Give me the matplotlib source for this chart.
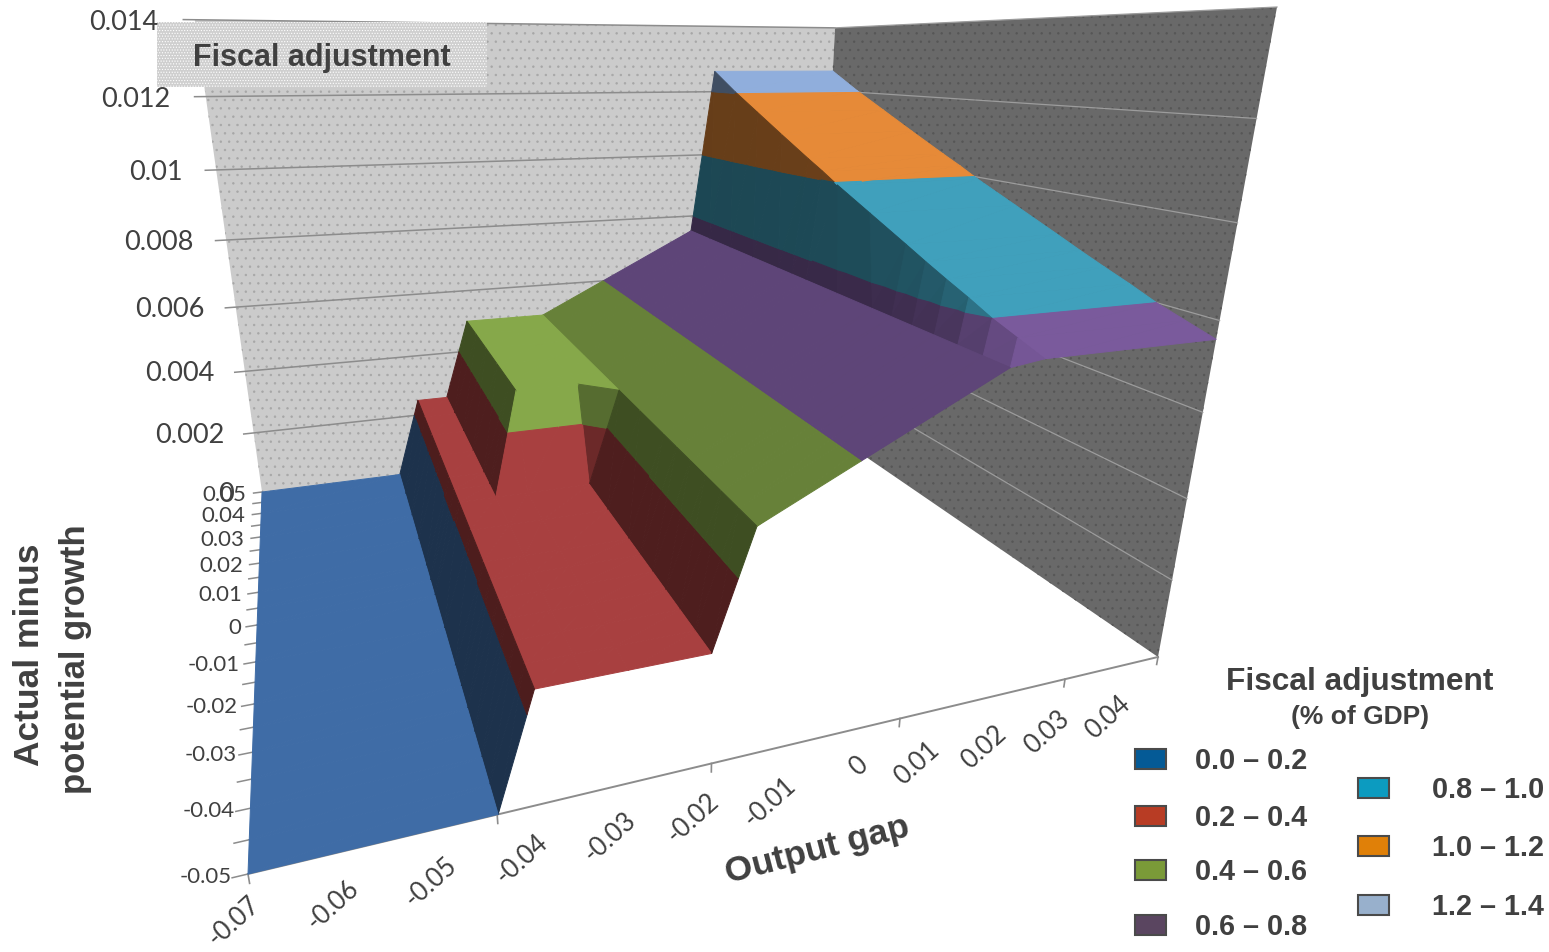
import matplotlib
matplotlib.use("Agg")
import matplotlib.pyplot as plt
import numpy as np
from matplotlib.colors import to_rgb
from matplotlib.patches import Rectangle
from mpl_toolkits.mplot3d.art3d import Poly3DCollection

FIG_W, FIG_H = 1549, 953

# surface grid
output_gap = [-0.07, -0.0461, -0.0417, -0.0365, -0.0319, -0.0227, -0.0179, 0.0114, 0.0158, 0.04]
growth_gap = [-0.05, -0.045, -0.04, -0.035, -0.03, -0.025, -0.02, -0.01, 0.0, 0.005, 0.01, 0.02, 0.03, 0.04, 0.05]
adjustment = [
    [0, 0, 0.0025, 0.0025, 0.0025, 0.0025, 0.005, 0.0075, 0.0076, 0.0076],
    [0, 0, 0.0025, 0.0025, 0.0025, 0.0025, 0.005, 0.0075, 0.0078, 0.0078],
    [0, 0, 0.0025, 0.0025, 0.0025, 0.0025, 0.005, 0.0075, 0.0080, 0.0080],
    [0, 0, 0.0025, 0.0025, 0.0025, 0.0025, 0.005, 0.0075, 0.00825, 0.00825],
    [0, 0, 0.0025, 0.0025, 0.0025, 0.0025, 0.005, 0.0075, 0.00848, 0.00848],
    [0, 0, 0.0025, 0.0025, 0.0025, 0.0025, 0.005, 0.0075, 0.00872, 0.00872],
    [0, 0, 0.0025, 0.0025, 0.0025, 0.0025, 0.005, 0.0075, 0.00897, 0.00897],
    [0, 0, 0.0025, 0.0025, 0.0025, 0.0025, 0.005, 0.0075, 0.00946, 0.00946],
    [0, 0, 0.0025, 0.0025, 0.0025, 0.0025, 0.005, 0.0075, 0.00995, 0.00995],
    [0, 0, 0.0025, 0.0025, 0.005, 0.005, 0.005, 0.0075, 0.01022, 0.01022],
    [0, 0, 0.0025, 0.0025, 0.005, 0.005, 0.005, 0.0075, 0.01047, 0.01047],
    [0, 0, 0.0025, 0.0025, 0.005, 0.005, 0.005, 0.0075, 0.01099, 0.01099],
    [0, 0, 0.0025, 0.0025, 0.005, 0.005, 0.005, 0.0075, 0.01152, 0.01152],
    [0, 0, 0.0025, 0.0025, 0.005, 0.005, 0.005, 0.0075, 0.01205, 0.01205],
    [0, 0, 0.0025, 0.0025, 0.005, 0.005, 0.005, 0.0075, 0.01263, 0.01263],
]
# cells split along the other diagonal (column, row)
flipped_cells = [(5, 8)]

band_edges = [0.0, 0.002, 0.004, 0.006, 0.008, 0.010, 0.012, 0.014]
band_labels = ["0.0 – 0.2", "0.2 – 0.4", "0.4 – 0.6", "0.6 – 0.8", "0.8 – 1.0", "1.0 – 1.2", "1.2 – 1.4"]
surface_colors = ["#3F6CA6", "#A84040", "#86A84A", "#7A5A9C", "#40A0BC", "#E68A38", "#90AEDC"]
legend_colors = ["#045A96", "#B83C24", "#7A9A38", "#5A4560", "#0C9BC0", "#E08008", "#98B0CC"]

x_major_ticks = [-0.07, -0.0462, -0.0225, 0.0014, 0.0252, 0.04]
x_tick_labels = ["-0.07", "-0.06", "-0.05", "-0.04", "-0.03", "-0.02", "-0.01", "0", "0.01", "0.02", "0.03", "0.04"]
y_major_ticks = [-0.05, -0.04, -0.03, -0.02, -0.01, 0.0, 0.01, 0.02, 0.03, 0.04, 0.05]
y_minor_ticks = [-0.045, -0.035, -0.025, -0.015, -0.005, 0.005, 0.015, 0.025, 0.035, 0.045]
y_tick_labels = ["-0.05", "-0.04", "-0.03", "-0.02", "-0.01", "0", "0.01", "0.02", "0.03", "0.04", "0.05"]
z_ticks = [0.0, 0.002, 0.004, 0.006, 0.008, 0.010, 0.012, 0.014]
z_tick_labels = ["0", "0.002", "0.004", "0.006", "0.008", "0.01", "0.012", "0.014"]

# camera fitted to the box corners: (s, t, h) in 0..1 -> picture pixels
CAMERA = np.array([
    [1333.5, 242.6, -177.8, 248.0],
    [23.6, 48.1, -889.8, 875.0],
    [0.3657, 0.8724, -0.2665, 1.0],
])

# the x labels were pasted on the source image, they do not sit on the ticks
X_LABEL_PIXELS = [(234, 921), (333, 905), (431, 882), (522, 859), (610, 837), (693, 818),
                  (770, 802), (859, 766), (917, 763), (984, 747), (1047, 732), (1108, 717)]
LEGEND_PIXELS = [(1135, 749), (1135, 806), (1135, 860), (1135, 915), (1358, 778), (1358, 836), (1358, 895)]

TEXT_COLOR = "#404040"
gap_min, gap_max = output_gap[0], output_gap[-1]
growth_min, growth_max = growth_gap[0], growth_gap[-1]
z_max = z_ticks[-1]


def px(x, y):
    return x / FIG_W, 1 - y / FIG_H


def unit_coords(points):
    pts = np.asarray(points, dtype=float)
    return np.column_stack([
        (pts[:, 0] - gap_min) / (gap_max - gap_min),
        (pts[:, 1] - growth_min) / (growth_max - growth_min),
        pts[:, 2] / z_max,
    ])


def to_pixel(gap, growth, z):
    s, t, h = unit_coords([(gap, growth, z)])[0]
    u, v, w = CAMERA @ np.array([s, t, h, 1.0])
    return u / w, v / w


def projection_for(ax):
    # picture pixels -> the 2D coordinates of the axes, then stack the homography
    inv = ax.transData.inverted()
    (a0, b0), (a1, b1) = inv.transform([(0, 0), (1, 1)])
    top, mid, w = CAMERA
    u = (a1 - a0) * top + a0 * w
    v = (b1 - b0) * (FIG_H * w - mid) + b0 * w
    M = np.vstack([u, v, [0, 0, 0, -1], w])
    to_unit = np.array([
        [1 / (gap_max - gap_min), 0, 0, -gap_min / (gap_max - gap_min)],
        [0, 1 / (growth_max - growth_min), 0, -growth_min / (growth_max - growth_min)],
        [0, 0, 1 / z_max, 0],
        [0, 0, 0, 1],
    ])
    return M @ to_unit


def clip_z(poly, limit, keep_above):
    out = []
    n = len(poly)
    for i in range(n):
        a, b = poly[i], poly[(i + 1) % n]
        a_in = a[2] >= limit if keep_above else a[2] <= limit
        b_in = b[2] >= limit if keep_above else b[2] <= limit
        if a_in:
            out.append(a)
        if a_in != b_in:
            f = (limit - a[2]) / (b[2] - a[2])
            out.append(a + f * (b - a))
    return out


def triangle_shade(tri):
    p = unit_coords(tri)
    n = np.cross(p[1] - p[0], p[2] - p[0])
    if n[2] < 0:
        n = -n
    n = n / np.linalg.norm(n)
    # steps facing the viewer's left are dark, as on the Excel surface
    return 1 - 0.56 * abs(min(n[0], 0)) ** 1.5


def surface_polygons():
    z = np.array(adjustment, dtype=float)
    polys, colors = [], []
    for j in range(len(growth_gap) - 1):
        for i in range(len(output_gap) - 1):
            c = [np.array([output_gap[i + di], growth_gap[j + dj], z[j + dj, i + di]])
                 for di, dj in [(0, 0), (1, 0), (1, 1), (0, 1)]]
            if (i, j) in flipped_cells:
                tris = [[c[0], c[1], c[3]], [c[1], c[2], c[3]]]
            else:
                tris = [[c[0], c[1], c[2]], [c[0], c[2], c[3]]]
            for tri in tris:
                shade = triangle_shade(np.array(tri))
                for k, base in enumerate(surface_colors):
                    poly = clip_z(tri, band_edges[k], True)
                    if len(poly) >= 3:
                        poly = clip_z(poly, band_edges[k + 1], False)
                    if len(poly) < 3 or len(np.unique(np.round(poly, 9), axis=0)) < 3:
                        continue
                    polys.append(np.array(poly))
                    colors.append(tuple(np.array(to_rgb(base)) * shade))
    return polys, colors


fig = plt.figure(figsize=(FIG_W / 100, FIG_H / 100), dpi=100, facecolor="white")
side = FIG_W / FIG_H
ax = fig.add_axes([0, -(side - 1) / 2, 1, side], projection="3d")
ax.set_axis_off()
ax.computed_zorder = False
ax.patch.set_visible(False)

# walls
plt.rcParams["hatch.linewidth"] = 0.5
plt.rcParams["hatch.color"] = "#A6A6A6"
left_wall = Poly3DCollection(
    [[(gap_min, growth_max, 0), (gap_max, growth_max, 0), (gap_max, growth_max, z_max), (gap_min, growth_max, z_max)]],
    facecolors="#CBCBCB", edgecolors="none", hatch="..", zorder=1,
)
ax.add_collection3d(left_wall)
plt.rcParams["hatch.color"] = "#565656"
right_wall = Poly3DCollection(
    [[(gap_max, growth_max, 0), (gap_max, growth_min, 0), (gap_max, growth_min, z_max), (gap_max, growth_max, z_max)]],
    facecolors="#696969", edgecolors="none", hatch="..", zorder=1,
)
ax.add_collection3d(right_wall)

# gridlines and z ticks
for value, label in zip(z_ticks, z_tick_labels):
    if value > 0:
        ax.plot([gap_min - 0.0016, gap_max], [growth_max, growth_max], [value, value],
                color="#8C8C8C", lw=1.1, zorder=2)
        ax.plot([gap_max, gap_max], [growth_max, growth_min], [value, value],
                color="#9C9C9C", lw=0.9, zorder=2)
    x, y = to_pixel(gap_min, growth_max, value)
    fig.text(*px(x - 28 - 8 * value / z_max, y + 1.5), label, ha="right", va="center",
             fontsize=19.5, family="Lato", color=TEXT_COLOR, zorder=6)

# the surface
polys, colors = surface_polygons()
surface = Poly3DCollection(polys, facecolors=colors, edgecolors=colors, linewidths=0.7, zorder=3)
ax.add_collection3d(surface)

# floor edge and ticks
ax.plot([gap_min, gap_max], [growth_min, growth_min], [0, 0], color="#8C8C8C", lw=1.4, zorder=2)
for value in x_major_ticks:
    ax.plot([value, value], [growth_min, growth_min], [0, -0.0002], color="#8C8C8C", lw=1.2, zorder=2)
for value in y_major_ticks + y_minor_ticks:
    ax.plot([gap_min - 0.0014, gap_min], [value, value], [0, 0], color="#8C8C8C", lw=1.1, zorder=2)
for value, label in zip(y_major_ticks, y_tick_labels):
    x, y = to_pixel(gap_min, value, 0)
    fig.text(*px(x - 16, y + 2), label, ha="right", va="center",
             fontsize=16, family="Lato", color=TEXT_COLOR, zorder=6)

ax.get_proj = lambda: projection_for(ax)

# texts on top of the image
for label, (x, y) in zip(x_tick_labels, X_LABEL_PIXELS):
    fig.text(*px(x, y), label, rotation=42, ha="center", va="center", rotation_mode="anchor",
             fontsize=18.5, family="Lato", color=TEXT_COLOR, zorder=6)
fig.text(*px(817, 850), "Output gap", rotation=14.6, ha="center", va="center", rotation_mode="anchor",
         fontsize=25.5, family="Liberation Sans", fontweight="bold", color=TEXT_COLOR, zorder=6)
fig.text(*px(30, 655), "Actual minus", rotation=90, ha="center", va="center",
         fontsize=25.5, family="Liberation Sans", fontweight="bold", color=TEXT_COLOR, zorder=6)
fig.text(*px(76, 659), "potential growth", rotation=90, ha="center", va="center",
         fontsize=25, family="Liberation Sans", fontweight="bold", color=TEXT_COLOR, zorder=6)

x0, y0 = px(157, 88)
x1, y1 = px(487, 23)
fig.add_artist(Rectangle((x0, y0), x1 - x0, y1 - y0, transform=fig.transFigure, facecolor="#CFCFCF",
                         edgecolor="white", hatch="......", linewidth=0, zorder=5))
fig.text(*px(322, 58), "Fiscal adjustment", ha="center", va="center", fontsize=22, family="Liberation Sans",
         fontweight="bold", color=TEXT_COLOR, zorder=6)

# legend
fig.text(*px(1360, 682), "Fiscal adjustment", ha="center", va="center", fontsize=22.8,
         family="Liberation Sans", fontweight="bold", color=TEXT_COLOR)
fig.text(*px(1360, 717), "(% of GDP)", ha="center", va="center", fontsize=19,
         family="Liberation Sans", fontweight="bold", color=TEXT_COLOR)
for label, color, (x, y) in zip(band_labels, legend_colors, LEGEND_PIXELS):
    bx, by = px(x, y + 21)
    fig.add_artist(Rectangle((bx, by), 31 / FIG_W, 20 / FIG_H, transform=fig.transFigure,
                             facecolor=color, edgecolor="#4A4A4A", linewidth=1.5, zorder=5))
    text_x = 1195 if x < 1300 else 1432
    fig.text(*px(text_x, y + 12), label, ha="left", va="center", fontsize=20.7,
             family="Liberation Sans", fontweight="bold", color=TEXT_COLOR, zorder=6)

fig.savefig("out.png", dpi=100)
